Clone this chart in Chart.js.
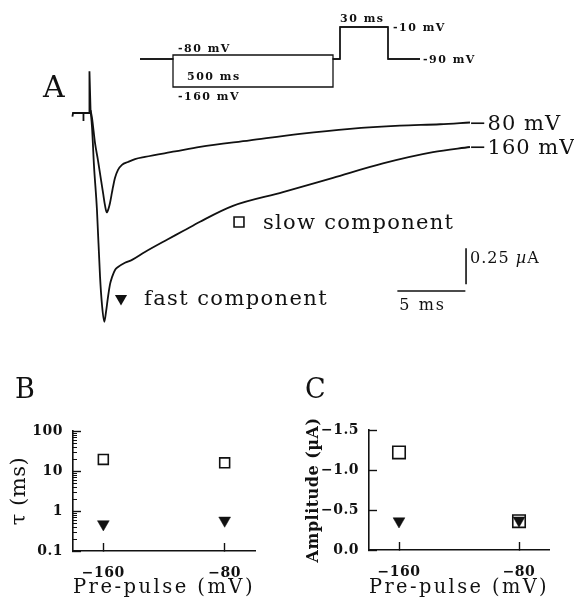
<!DOCTYPE html>
<html>
<head>
<meta charset="utf-8">
<title>Fast and slow components after pre-pulses</title>
<script src="https://cdn.jsdelivr.net/npm/chart.js@4.4.1/dist/chart.umd.min.js"></script>
<style>
  body { margin: 0; background: #fff; }
  #figure { position: relative; width: 574px; height: 598px; overflow: hidden; }
  #figure canvas { position: absolute; }
</style>
</head>
<body>
<div id="figure">
  <canvas id="traces" width="574" height="365" style="left:0;top:0"></canvas>
  <canvas id="protocol" width="360" height="100" style="left:130px;top:5px"></canvas>
  <canvas id="tau" width="280" height="238" style="left:0;top:360px"></canvas>
  <canvas id="amp" width="294" height="238" style="left:280px;top:360px"></canvas>
</div>
<script>
// Panel A: currents (ms, µA) after the -80 and -160 mV pre-pulses
var artifactTime = [-1.29, -1.25, -0.48, -0.48, -0.48, -0.07, -0.04, 0.04];
var artifactCurrent = [-0.025, 0, 0, -0.055, 0, 0, 0.29, 0.02];

var time80 = [0.04, 0.15, 0.37, 0.59, 0.81, 0.96, 1.10, 1.23, 1.36, 1.47, 1.62, 1.69, 1.84,
  2.06, 2.35, 2.79, 3.31, 4.04, 6.25, 8.09, 11.76, 15.44, 19.12, 22.79, 25.74, 27.94];
var current80 = [0.02, -0.035, -0.21, -0.33, -0.465, -0.555, -0.64, -0.69, -0.665, -0.625, -0.55, -0.515, -0.45,
  -0.395, -0.36, -0.34, -0.32, -0.305, -0.267, -0.235, -0.19, -0.145, -0.11, -0.088, -0.078, -0.066];

var time160 = [0.04, 0.15, 0.29, 0.51, 0.74, 0.88, 1.05, 1.18, 1.32, 1.47, 1.62, 1.84, 2.06,
  2.57, 3.09, 4.04, 5.66, 6.84, 8.09, 10.51, 14.19, 17.87, 21.54, 25.22, 27.94];
var current160 = [0.02, -0.10, -0.36, -0.67, -1.14, -1.33, -1.45, -1.38, -1.28, -1.19, -1.14, -1.09, -1.07,
  -1.04, -1.02, -0.965, -0.88, -0.82, -0.755, -0.645, -0.55, -0.45, -0.35, -0.272, -0.236];

var traceLabels = ['\u221280 mV', '\u2212160 mV'];
var barTime = 5;        // ms
var barCurrent = 0.25;  // µA

// voltage protocol (mV)
var holdingMv = -90;
var prePulseMv = [-80, -160];
var testMv = -10;
var prePulseDuration = '500 ms';
var testDuration = '30 ms';

// Panels B and C
var prePulse = [-160, -80];
var tauSlow = [19.5, 16];
var tauFast = [0.47, 0.58];
var ampSlow = [-1.22, -0.36];
var ampFast = [-0.36, -0.37];
var prePulseTicks = [-160, -80];
var tauTicks = [0.1, 1, 10, 100];
var ampTicks = [0, -0.5, -1, -1.5];

var ink = '#111';
Chart.defaults.font.family = '"DejaVu Serif"';
Chart.defaults.color = ink;

function points(xs, ys) {
  return xs.map(function (v, i) { return { x: v, y: ys[i] }; });
}

function minus(v) {
  return v < 0 ? '\u2212' + Math.abs(v) : String(v);
}

function text(ctx, str, x, y, font, spacing) {
  ctx.font = font;
  ctx.letterSpacing = (spacing || 0) + 'px';
  ctx.fillText(str, x, y);
}

// same geometry as the chart's own 'rect' and 'triangle' point styles
function square(ctx, x, y, r, lw) {
  var s = Math.SQRT1_2 * r;
  ctx.beginPath();
  ctx.rect(x - s, y - s, 2 * s, 2 * s);
  ctx.fillStyle = '#fff';
  ctx.fill();
  ctx.lineWidth = lw;
  ctx.strokeStyle = ink;
  ctx.stroke();
}

function downTriangle(ctx, x, y, r) {
  ctx.beginPath();
  for (var k = 0; k < 3; k++) {
    var a = Math.PI + k * 2 * Math.PI / 3;
    ctx[k ? 'lineTo' : 'moveTo'](x + Math.sin(a) * r, y - Math.cos(a) * r);
  }
  ctx.closePath();
  ctx.fillStyle = ink;
  ctx.fill();
}

// ---------- A: traces ----------
var traceNotes = {
  id: 'traceNotes',
  afterDatasetsDraw: function (chart) {
    var ctx = chart.ctx, x = chart.scales.x, y = chart.scales.y;
    ctx.save();
    ctx.fillStyle = ink;
    ctx.textBaseline = 'alphabetic';
    text(ctx, 'A', 43, 97, '30px "DejaVu Serif"');

    [[time80, current80], [time160, current160]].forEach(function (tr, i) {
      var n = tr[0].length - 1;
      ctx.fillStyle = ink;
      text(ctx, traceLabels[i], x.getPixelForValue(tr[0][n]) - 1, y.getPixelForValue(tr[1][n]) + 7,
        '21px "DejaVu Serif"', 1);
    });

    square(ctx, 239, 222, 7, 1.6);
    ctx.fillStyle = ink;
    text(ctx, 'slow component', 263, 229, '21px "DejaVu Serif"', 1.3);
    downTriangle(ctx, 121, 298.5, 7);
    ctx.fillStyle = ink;
    text(ctx, 'fast component', 144, 305, '21px "DejaVu Serif"', 1.4);

    // scale bars
    var cornerT = 27.6, cornerI = -1.236, vBase = -1.19;
    var hx0 = x.getPixelForValue(cornerT - barTime), hx1 = x.getPixelForValue(cornerT);
    var hy = y.getPixelForValue(cornerI);
    var vx = x.getPixelForValue(cornerT + 0.05);
    var vy0 = y.getPixelForValue(vBase), vy1 = y.getPixelForValue(vBase + barCurrent);
    ctx.strokeStyle = ink;
    ctx.lineWidth = 1.6;
    ctx.beginPath();
    ctx.moveTo(hx0, hy); ctx.lineTo(hx1, hy);
    ctx.moveTo(vx, vy0); ctx.lineTo(vx, vy1);
    ctx.stroke();
    text(ctx, barTime + ' ms', hx0 + 2, hy + 19, '16px "DejaVu Serif"', 2);
    text(ctx, barCurrent + ' ', vx + 4, vy1 + 15, '16px "DejaVu Serif"', 1);
    var w = ctx.measureText(barCurrent + ' ').width;
    text(ctx, '\u00b5', vx + 4 + w, vy1 + 15, 'italic 16px "DejaVu Serif"', 1);
    var wm = ctx.measureText('\u00b5').width;
    text(ctx, 'A', vx + 4 + w + wm, vy1 + 15, '16px "DejaVu Serif"', 1);
    ctx.restore();
  }
};

function traceSet(xs, ys, smooth) {
  return {
    data: points(xs, ys),
    borderColor: ink,
    borderWidth: 1.8,
    pointRadius: 0,
    tension: 0,
    cubicInterpolationMode: smooth ? 'monotone' : 'default',
    clip: false
  };
}

new Chart(document.getElementById('traces'), {
  type: 'line',
  data: {
    datasets: [
      traceSet(artifactTime, artifactCurrent, false),
      traceSet(time80, current80, true),
      traceSet(time160, current160, true)
    ]
  },
  options: {
    responsive: false,
    animation: false,
    events: [],
    layout: { padding: { left: 22, right: 8, top: 5, bottom: 0 } },
    plugins: { legend: { display: false }, tooltip: { enabled: false } },
    scales: {
      x: { type: 'linear', min: -5, max: 35, display: false },
      y: { type: 'linear', min: -1.75, max: 0.75, display: false }
    }
  },
  plugins: [traceNotes]
});

// ---------- A: protocol inset ----------
var protocolSpans = [33, 160, 7, 48, 32];
var edges = [0];
protocolSpans.forEach(function (s, i) { edges.push(edges[i] + s); });

function protocolPath(pre) {
  var xs = [edges[0], edges[1], edges[1], edges[2], edges[2], edges[3], edges[3], edges[4], edges[4], edges[5]];
  var ys = [holdingMv, holdingMv, pre, pre, holdingMv, holdingMv, testMv, testMv, holdingMv, holdingMv];
  return points(xs, ys);
}

function mv(v) {
  return (v < 0 ? '-' : '') + Math.abs(v) + ' mV';
}

var protocolNotes = {
  id: 'protocolNotes',
  afterDatasetsDraw: function (chart) {
    var ctx = chart.ctx, x = chart.scales.x, y = chart.scales.y;
    var f = 'bold 11px "DejaVu Serif"';
    ctx.save();
    ctx.fillStyle = ink;
    text(ctx, mv(prePulseMv[0]), x.getPixelForValue(edges[1]) + 5, y.getPixelForValue(prePulseMv[0]) - 3.5, f, 1.5);
    text(ctx, prePulseDuration, x.getPixelForValue(edges[1]) + 14, y.getPixelForValue(prePulseMv[1]) - 7, f, 1.5);
    text(ctx, mv(prePulseMv[1]), x.getPixelForValue(edges[1]) + 5, y.getPixelForValue(prePulseMv[1]) + 13, f, 1.5);
    text(ctx, testDuration, x.getPixelForValue(edges[3]), y.getPixelForValue(testMv) - 5.5, f, 1.5);
    text(ctx, mv(testMv), x.getPixelForValue(edges[4]) + 5, y.getPixelForValue(testMv) + 4, f, 1.5);
    text(ctx, mv(holdingMv), x.getPixelForValue(edges[5]) + 3, y.getPixelForValue(holdingMv) + 4.3, f, 1.5);
    ctx.restore();
  }
};

new Chart(document.getElementById('protocol'), {
  type: 'line',
  data: {
    datasets: prePulseMv.map(function (p) {
      return { data: protocolPath(p), borderColor: ink, borderWidth: 1.3, pointRadius: 0, tension: 0, clip: false };
    })
  },
  options: {
    responsive: false,
    animation: false,
    events: [],
    layout: { padding: { left: 10, right: 70, top: 18, bottom: 10 } },
    plugins: { legend: { display: false }, tooltip: { enabled: false } },
    scales: {
      x: { type: 'linear', min: 0, max: edges[5], display: false },
      y: { type: 'linear', min: -180, max: 0, display: false }
    }
  },
  plugins: [protocolNotes]
});

// ---------- B and C ----------
var bold14 = { family: '"DejaVu Serif"', size: 14, weight: 'bold' };

// x axis grid, border and title are drawn after the datasets (z = 1), so the
// wide letter spacing of the title does not reach the tick labels
var spacing = {
  id: 'spacing',
  beforeDraw: function (chart) { chart.ctx.letterSpacing = '0.5px'; },
  afterDatasetsDraw: function (chart) { chart.ctx.letterSpacing = '2.5px'; },
  afterDraw: function (chart) { chart.ctx.letterSpacing = '0px'; }
};

function prePulseAxis(height) {
  return {
    type: 'linear', min: -180, max: -60,
    afterBuildTicks: function (s) { s.ticks = prePulseTicks.map(function (v) { return { value: v }; }); },
    afterFit: function (s) { s.height = height; },
    border: { z: 1, color: ink, width: 1.6 },
    grid: { z: 1, drawOnChartArea: false, tickLength: -8, tickWidth: 1.4, tickColor: ink },
    ticks: { z: 0, color: ink, padding: 22, maxRotation: 0, autoSkip: false, font: bold14, callback: minus },
    title: { display: true, text: 'Pre-pulse (mV)', color: ink,
      font: { family: '"DejaVu Serif"', size: 20, lineHeight: 1 }, padding: { top: 0, bottom: 0 } }
  };
}

function componentSets(slow, fast, squareR) {
  return [
    { data: points(prePulse, slow), order: 1, pointStyle: 'rect', pointRadius: squareR, borderWidth: 1.6,
      borderColor: ink, backgroundColor: '#fff' },
    { data: points(prePulse, fast), order: 0, pointStyle: 'triangle', pointRotation: 180, pointRadius: 6.8, borderWidth: 0.5,
      borderColor: ink, backgroundColor: ink }
  ];
}

function letter(ch, x) {
  return {
    id: 'letter' + ch,
    afterDraw: function (chart) {
      var ctx = chart.ctx;
      ctx.save();
      ctx.fillStyle = ink;
      text(ctx, ch, x, 38, '27px "DejaVu Serif"');
      ctx.restore();
    }
  };
}

var tauMinor = {
  id: 'tauMinor',
  afterDraw: function (chart) {
    var ctx = chart.ctx, y = chart.scales.y, left = chart.chartArea.left;
    ctx.save();
    ctx.strokeStyle = ink;
    ctx.lineWidth = 1;
    ctx.beginPath();
    tauTicks.slice(0, -1).forEach(function (d) {
      for (var k = 2; k < 10; k++) {
        var py = Math.round(y.getPixelForValue(d * k)) + 0.5;
        ctx.moveTo(left, py);
        ctx.lineTo(left + 4, py);
      }
    });
    ctx.stroke();
    ctx.restore();
  }
};

new Chart(document.getElementById('tau'), {
  type: 'scatter',
  data: { datasets: componentSets(tauSlow, tauFast, 7) },
  options: {
    responsive: false,
    animation: false,
    events: [],
    layout: { padding: { left: 0, right: 25, top: 71, bottom: 0 } },
    plugins: { legend: { display: false }, tooltip: { enabled: false } },
    scales: {
      x: prePulseAxis(47),
      y: {
        type: 'logarithmic', min: 0.1, max: 100,
        afterBuildTicks: function (s) { s.ticks = tauTicks.map(function (v) { return { value: v }; }); },
        afterFit: function (s) { s.width = 73; },
        border: { color: ink, width: 1.6 },
        grid: { drawOnChartArea: false, tickLength: -8, tickWidth: 1.4, tickColor: ink },
        ticks: { color: ink, padding: 18, autoSkip: false, font: bold14, callback: function (v) { return String(v); } },
        title: { display: true, text: '\u03c4 (ms)', color: ink, font: { family: '"DejaVu Serif"', size: 21 }, padding: { top: 7, bottom: 0 } }
      }
    }
  },
  plugins: [spacing, tauMinor, letter('B', 15)]
});

new Chart(document.getElementById('amp'), {
  type: 'scatter',
  data: { datasets: componentSets(ampSlow, ampFast, 8.8) },
  options: {
    responsive: false,
    animation: false,
    events: [],
    layout: { padding: { left: 0, right: 25, top: 70, bottom: 0 } },
    plugins: { legend: { display: false }, tooltip: { enabled: false } },
    scales: {
      x: prePulseAxis(48),
      y: {
        type: 'linear', min: -1.5, max: 0, reverse: true,
        afterBuildTicks: function (s) { s.ticks = ampTicks.map(function (v) { return { value: v }; }); },
        afterFit: function (s) { s.width = 89; },
        border: { color: ink, width: 1.6 },
        grid: { drawOnChartArea: false, tickLength: -8, tickWidth: 1.4, tickColor: ink },
        ticks: { color: ink, padding: 18, autoSkip: false, font: bold14,
          callback: function (v) { return (v < 0 ? '\u2212' : '') + Math.abs(v).toFixed(1); } },
        title: { display: true, text: 'Amplitude (\u00b5A)', color: ink, font: { family: '"DejaVu Serif"', size: 16, weight: 'bold' }, padding: { top: 24, bottom: 0 } }
      }
    }
  },
  plugins: [spacing, letter('C', 25)]
});
</script>
</body>
</html>
